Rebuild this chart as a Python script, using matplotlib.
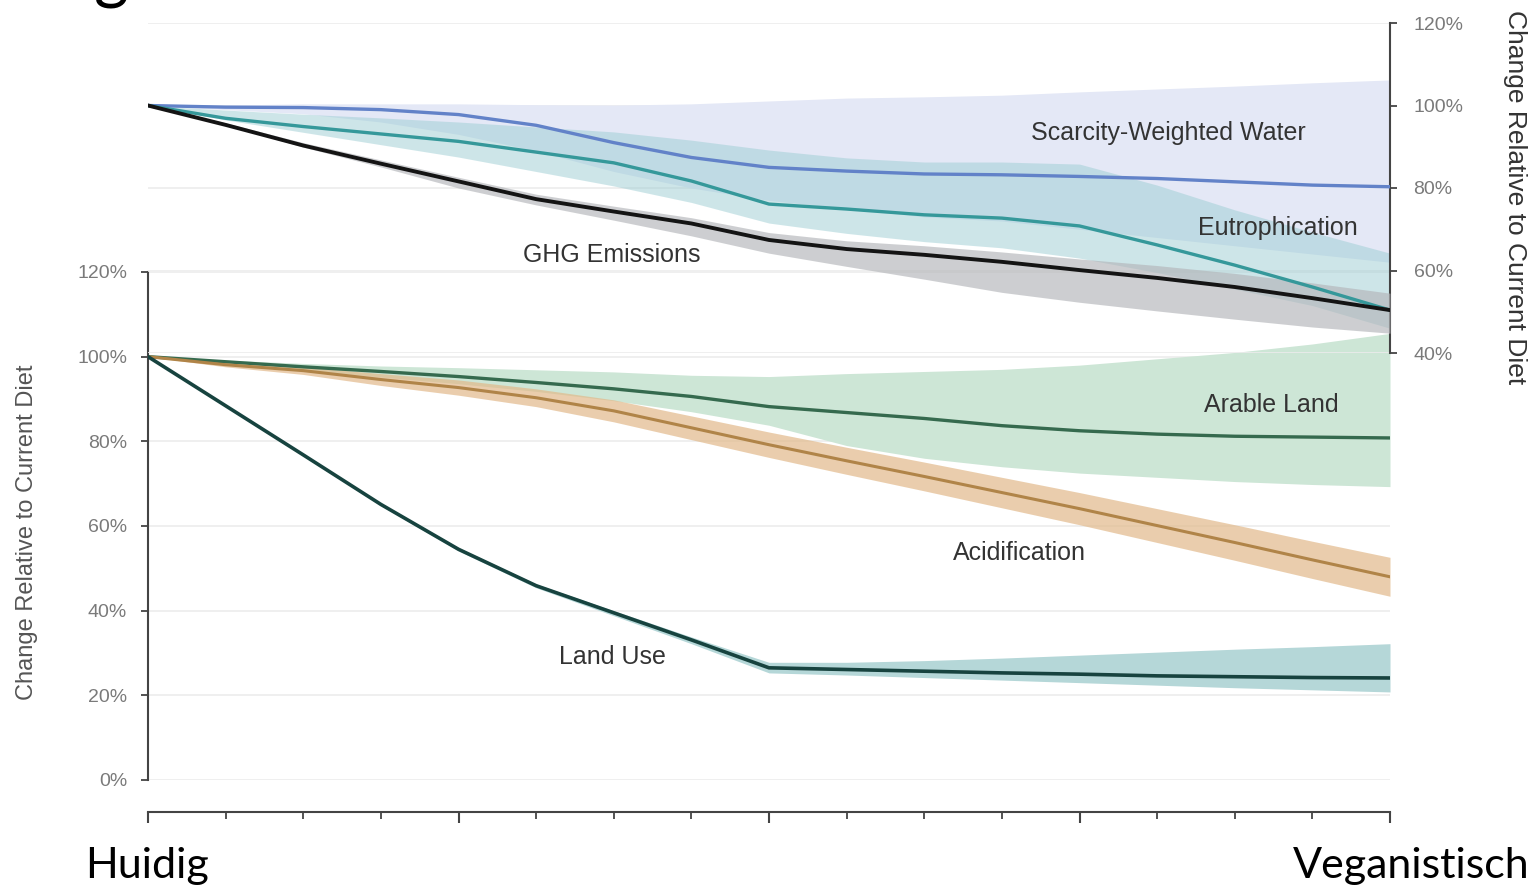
import matplotlib.pyplot as plt
from matplotlib.ticker import FuncFormatter, MultipleLocator

# diet steps from current diet (0) to vegan (16)
steps = list(range(17))

# upper panel, right scale (% of current diet)
water = [100, 99.6, 99.5, 99.0, 97.8, 95.2, 91.0, 87.4, 85.0, 84.1, 83.4, 83.2, 82.8, 82.3, 81.5, 80.7, 80.3]
water_hi = [100, 100.1, 100.4, 100.4, 100.4, 100.2, 100.1, 100.4, 101.1, 101.8, 102.1, 102.5, 103.3, 104.0, 104.7, 105.5, 106.2]
water_lo = [100, 99, 98, 96, 93, 89, 84, 80, 77, 75, 73, 72, 70, 68, 66, 64, 62]

eutro = [100, 96.9, 94.9, 93.1, 91.3, 88.7, 86.1, 81.7, 76.1, 74.9, 73.5, 72.7, 70.8, 66.2, 61.3, 56.0, 50.4]
eutro_hi = [100, 98.9, 97.9, 97.0, 96.0, 94.8, 93.6, 91.6, 89.2, 87.3, 86.3, 86.3, 85.8, 80.7, 74.7, 69.3, 64.2]
eutro_lo = [100, 96.5, 93.5, 90.5, 87.5, 84, 80.5, 76.5, 71.5, 69, 67, 65.5, 63, 59.5, 55.5, 51.5, 46]

ghg = [100, 95.3, 90.3, 85.9, 81.6, 77.3, 74.3, 71.4, 67.4, 65.2, 63.8, 62.1, 60.1, 58.2, 56.0, 53.3, 50.4]
ghg_hi = [100, 95.8, 91, 86.8, 82.6, 78.5, 75.6, 72.8, 69.2, 67.2, 66, 64.5, 62.8, 61.2, 59.3, 57, 54.5]
ghg_lo = [100, 95.3, 89.9, 85.1, 80.0, 75.9, 72.2, 68.4, 64.2, 61.0, 57.9, 54.7, 52.3, 50.2, 48.2, 46.3, 44.8]

# lower panel, left scale
arable = [100, 98.8, 97.6, 96.5, 95.3, 93.9, 92.4, 90.6, 88.2, 86.8, 85.4, 83.7, 82.5, 81.7, 81.2, 81.0, 80.8]
arable_hi = [100, 99.2, 98.4, 97.8, 97.4, 96.9, 96.4, 95.6, 95.3, 96.0, 96.5, 97.0, 98.0, 99.5, 101.0, 103.0, 105.5]
arable_lo = [100, 98.4, 96.8, 95.2, 93.6, 91.8, 89.6, 87, 83.8, 79, 76.0, 74.0, 72.5, 71.5, 70.5, 69.8, 69.3]

acid = [100, 98.1, 96.7, 94.6, 92.7, 90.3, 87.2, 83.2, 79.2, 75.4, 71.7, 67.9, 64.1, 60.1, 56.1, 52.0, 48.0]
acid_hi = [100, 98.6, 97.6, 96.0, 94.5, 92.4, 89.8, 86.0, 82.2, 78.6, 75.1, 71.5, 67.9, 64.1, 60.3, 56.4, 52.6]
acid_lo = [100, 97.6, 95.8, 93.2, 90.9, 88.2, 84.6, 80.4, 76.2, 72.2, 68.3, 64.3, 60.3, 56.1, 51.9, 47.6, 43.4]

land = [100, 88.4, 76.8, 65.1, 54.5, 45.9, 39.5, 33.1, 26.5, 26.1, 25.7, 25.3, 25.0, 24.6, 24.4, 24.2, 24.1]
land_hi = [100, 88.6, 77.1, 65.4, 54.9, 46.3, 40, 33.8, 27.8, 27.8, 28.2, 28.8, 29.5, 30.2, 30.9, 31.5, 32.2]
land_lo = [100, 88.2, 76.5, 64.8, 54.1, 45.4, 38.8, 32.2, 25.3, 24.8, 24.2, 23.6, 23.0, 22.4, 21.8, 21.3, 20.8]

ylabel = "Change Relative to Current Diet"
sans = "Liberation Sans"
W, H = 1538, 891

fig = plt.figure(figsize=(W / 100, H / 100), dpi=100)
ax_bot = fig.add_axes([148 / W, (H - 780) / H, 1242 / W, 508 / H])
ax_top = fig.add_axes([148 / W, (H - 353) / H, 1242 / W, 330 / H])
for ax in (ax_bot, ax_top):
    ax.patch.set_alpha(0)
    ax.set_xlim(0, 16)
    ax.grid(axis="y", color="#ececec", lw=1.2, zorder=0)
    ax.set_axisbelow(True)
    for s in ax.spines.values():
        s.set_visible(False)

pct = FuncFormatter(lambda v, _: f"{v:.0f}%")

# lower panel
ax_bot.set_ylim(0, 120)
ax_bot.yaxis.set_major_locator(MultipleLocator(20))
ax_bot.yaxis.set_major_formatter(pct)
ax_bot.spines["left"].set_visible(True)
ax_bot.spines["left"].set_color("#444444")
ax_bot.spines["left"].set_linewidth(1.5)
ax_bot.spines["bottom"].set_visible(True)
ax_bot.spines["bottom"].set_color("#444444")
ax_bot.spines["bottom"].set_linewidth(1.5)
ax_bot.spines["bottom"].set_position(("outward", 23))
ax_bot.xaxis.set_major_locator(MultipleLocator(4))
ax_bot.xaxis.set_minor_locator(MultipleLocator(1))
ax_bot.tick_params(axis="x", which="major", length=8, width=1.5, color="#444444", labelbottom=False)
ax_bot.tick_params(axis="x", which="minor", length=5, width=1.3, color="#444444")
ax_bot.tick_params(axis="y", length=5, width=1.3, color="#444444", labelsize=14,
                   labelcolor="#7a7a7a", pad=10)
for lab in ax_bot.get_yticklabels():
    lab.set_family(sans)

ax_bot.fill_between(steps, arable_lo, arable_hi, color="#cde6d6", lw=0, zorder=1)
ax_bot.fill_between(steps, acid_lo, acid_hi, color="#e2b98a", alpha=0.7, lw=0, zorder=2)
ax_bot.fill_between(steps, land_lo, land_hi, color="#b5d7d8", lw=0, zorder=2)
ax_bot.plot(steps, arable, color="#356a4e", lw=2.4, zorder=4)
ax_bot.plot(steps, acid, color="#b08448", lw=2.2, zorder=4)
ax_bot.plot(steps, land, color="#17433f", lw=2.6, zorder=4)

# upper panel
ax_top.set_ylim(40, 120)
ax_top.yaxis.set_major_locator(MultipleLocator(20))
ax_top.yaxis.set_major_formatter(pct)
ax_top.yaxis.tick_right()
ax_top.spines["right"].set_visible(True)
ax_top.spines["right"].set_color("#444444")
ax_top.spines["right"].set_linewidth(1.5)
ax_top.tick_params(axis="x", bottom=False, labelbottom=False)
ax_top.tick_params(axis="y", length=5, width=1.3, color="#444444", labelsize=14,
                   labelcolor="#7a7a7a", pad=12)
for lab in ax_top.get_yticklabels():
    lab.set_family(sans)

ax_top.fill_between(steps, water_lo, water_hi, color="#e4e8f6", lw=0, zorder=1)
ax_top.fill_between(steps, eutro_lo, eutro_hi, color="#9ccdd3", alpha=0.5, lw=0, zorder=2)
ax_top.fill_between(steps, ghg_lo, ghg_hi, color="#b3b5b9", alpha=0.65, lw=0, zorder=3)
ax_top.plot(steps, water, color="#6282c8", lw=2.4, zorder=4)
ax_top.plot(steps, eutro, color="#35989a", lw=2.4, zorder=4)
ax_top.plot(steps, ghg, color="#141414", lw=2.8, zorder=5)

label_kw = dict(ha="center", va="center", fontsize=18, color="#333333", family=sans, zorder=6)
ax_top.text(13.14, 93.3, "Scarcity-Weighted Water", **label_kw)
ax_top.text(14.56, 70.3, "Eutrophication", **label_kw)
ax_top.text(5.98, 63.8, "GHG Emissions", **label_kw)
ax_bot.text(14.47, 88.7, "Arable Land", **label_kw)
ax_bot.text(11.23, 53.7, "Acidification", **label_kw)
ax_bot.text(5.98, 29.1, "Land Use", **label_kw)

# axis titles
fig.text(27 / W, 1 - 532 / H, ylabel, rotation=90, ha="center", va="center",
         fontsize=17, color="#555555", family=sans)
fig.text(1515 / W, 1 - 197 / H, ylabel, rotation=-90, ha="center", va="center",
         fontsize=19, color="#333333", family=sans)

# end points of the diet scale
fig.text(85 / W, 1 - 878 / H, "Huidig", ha="left", va="baseline",
         fontsize=31, color="black", family="Lato")
fig.text(1530 / W, 1 - 878 / H, "Veganistisch", ha="right", va="baseline",
         fontsize=31, color="black", family="Lato")
fig.text(94 / W, 1 + 3 / H, "g", ha="left", va="baseline",
         fontsize=48, color="black", family="Lato")

fig.savefig("out.png", dpi=100)
